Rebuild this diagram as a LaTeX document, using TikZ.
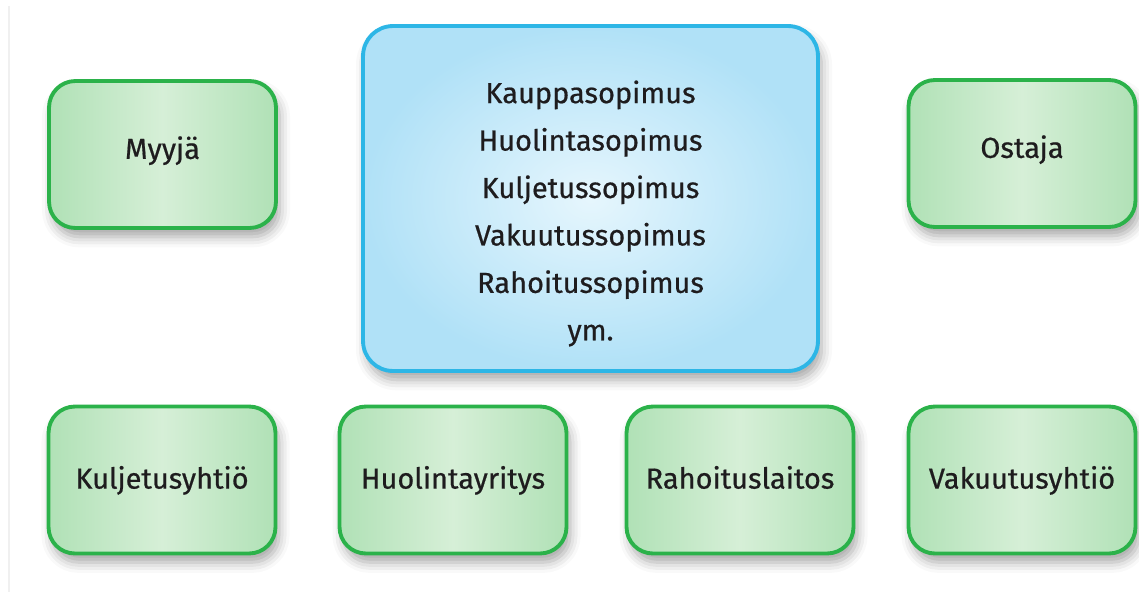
\documentclass[tikz,border=0pt]{standalone}
\usepackage{fontspec}
\setmainfont{Fira Sans}[FakeBold=0.6]
\usetikzlibrary{shadows.blur}

\definecolor{reunavihrea}{RGB}{43,178,74}
\definecolor{vihreareuna}{RGB}{176,225,182}
\definecolor{vihreakeski}{RGB}{214,239,215}
\definecolor{sinireuna}{RGB}{45,182,230}
\definecolor{siniulko}{RGB}{176,225,247}
\definecolor{sinisisa}{RGB}{230,246,253}
\definecolor{tekstiharmaa}{RGB}{30,28,30}

\begin{document}
\begin{tikzpicture}[x=0.02cm, y=-0.02cm, font=\fontsize{16.5}{27}\selectfont]

	% --- Mitat ---
	\def\boxW{4.54}
	\def\boxH{2.94}
	\def\keskiW{9.1}
	\def\keskiH{6.9}

	% --- Tyylit ---
	\tikzset{
		osapuoli/.style={draw=reunavihrea, line width=2.2pt, rounded corners=15pt,
			left color=vihreareuna, right color=vihreareuna, middle color=vihreakeski,
			minimum width=\boxW cm, minimum height=\boxH cm, text=tekstiharmaa,
			text height=0.72em, text depth=0.22em,
			blur shadow={shadow xshift=2pt, shadow yshift=-5pt, shadow blur radius=6pt, shadow opacity=35}},
		palvelu/.style={osapuoli, text height=1.2em},
		sopimuslaatikko/.style={draw=sinireuna, line width=2.2pt, rounded corners=17pt,
			inner color=sinisisa, outer color=siniulko,
			minimum width=\keskiW cm, minimum height=\keskiH cm,
			blur shadow={shadow xshift=2pt, shadow yshift=-5pt, shadow blur radius=6pt, shadow opacity=35}},
		sopimusteksti/.style={align=center, text=tekstiharmaa}
	}

	% --- Kuva-alue ---
	\useasboundingbox (0,0) rectangle (1139,592);
	\draw[black!6, line width=0.8pt] (9,6) -- (9,592);

	% --- Ylarivi: osapuolet ja sopimukset ---
	\node[osapuoli] (myyja) at (162.5,154.5) {Myyjä};
	\node[osapuoli] (ostaja) at (1022,153.5) {Ostaja};
	\node[sopimuslaatikko] (sopimukset) at (590.5,198.5) {};
	\node[sopimusteksti] (sopimuslista) at ([yshift=-0.3cm]sopimukset.center)
		{Kauppasopimus\\Huolintasopimus\\Kuljetussopimus\\Vakuutussopimus\\Rahoitussopimus\\ym.};

	% --- Alarivi: palveluyritykset ---
	\node[palvelu] (kuljetus) at (162,480) {Kuljetusyhtiö};
	\node[palvelu] (huolinta) at (453,480) {Huolintayritys};
	\node[palvelu] (rahoitus) at (740,480) {Rahoituslaitos};
	\node[palvelu] (vakuutus) at (1022,480) {Vakuutusyhtiö};

\end{tikzpicture}
\end{document}
